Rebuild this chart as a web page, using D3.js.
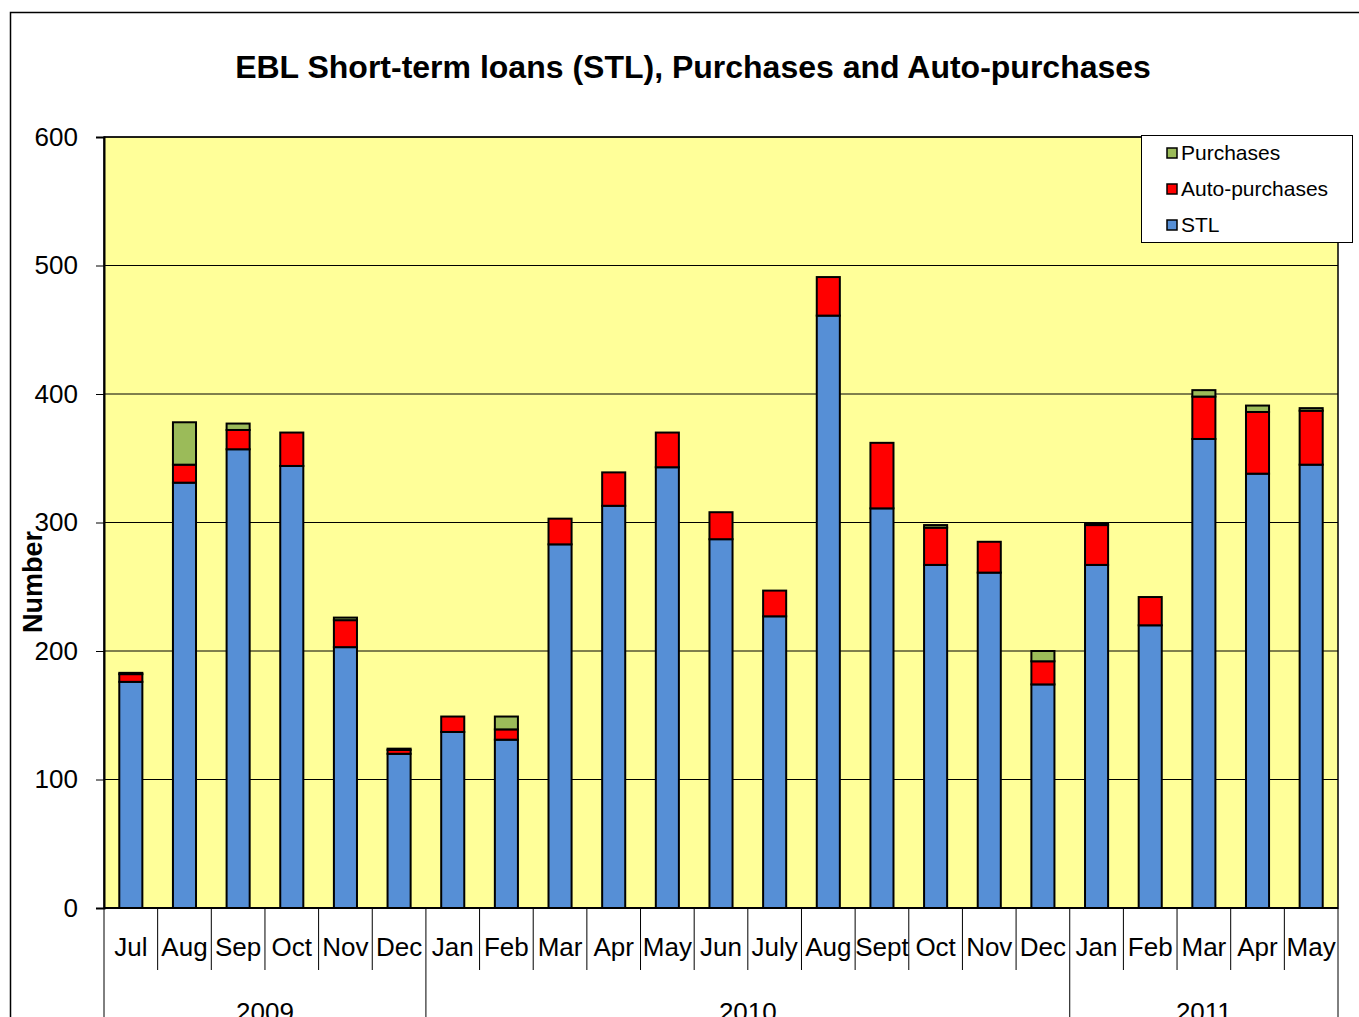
<!DOCTYPE html>
<html>
<head>
<meta charset="utf-8">
<script src="https://cdn.jsdelivr.net/npm/d3@7"></script>
<style>
    body { margin: 0; background: white; }
    text { font-family: "Liberation Sans", Arial, sans-serif; }
</style>
</head>
<body>
<div id="my_dataviz"></div>
<script>
// month labels and the year each one belongs to
var months = ["Jul", "Aug", "Sep", "Oct", "Nov", "Dec",
    "Jan", "Feb", "Mar", "Apr", "May", "Jun", "July", "Aug", "Sept", "Oct", "Nov", "Dec",
    "Jan", "Feb", "Mar", "Apr", "May"];
var years = ["2009", "2009", "2009", "2009", "2009", "2009",
    "2010", "2010", "2010", "2010", "2010", "2010", "2010", "2010", "2010", "2010", "2010", "2010",
    "2011", "2011", "2011", "2011", "2011"];

// series values
var stl = [176, 331, 357, 344, 203, 120, 137, 131, 283, 313, 343, 287, 227, 461, 311, 267, 261, 174, 267, 220, 365, 338, 345];
var autoPurchases = [6, 14, 15, 26, 21, 3, 12, 8, 20, 26, 27, 21, 20, 30, 51, 29, 24, 18, 31, 22, 33, 48, 42];
var purchases = [1, 33, 5, 0, 2, 1, 0, 10, 0, 0, 0, 0, 0, 0, 0, 2, 0, 8, 1, 0, 5, 5, 2];

var yTicks = [0, 100, 200, 300, 400, 500, 600];
var seriesKeys = ["STL", "Auto-purchases", "Purchases"];
var legendKeys = ["Purchases", "Auto-purchases", "STL"];

var width = 1359, height = 1017;
var margin = {top: 137, right: 21, bottom: 109, left: 104};
var plotW = width - margin.left - margin.right;
var plotH = height - margin.top - margin.bottom;

var color = d3.scaleOrdinal()
    .domain(seriesKeys)
    .range(["#568FD6", "#FF0000", "#9BBB59"]);

var svg = d3.select("#my_dataviz")
  .append("svg")
    .attr("width", width)
    .attr("height", height);

// outer chart frame
svg.append("rect")
    .attr("x", 10.5).attr("y", 12.5)
    .attr("width", 1380).attr("height", 1100)
    .attr("fill", "white")
    .attr("stroke", "black")
    .attr("stroke-width", 1.5);

// title
svg.append("text")
    .attr("x", 693).attr("y", 78)
    .attr("text-anchor", "middle")
    .style("font-size", "32px")
    .style("font-weight", "bold")
    .text("EBL Short-term loans (STL), Purchases and Auto-purchases");

var g = svg.append("g")
    .attr("transform", "translate(" + margin.left + "," + margin.top + ")");

// scales
var x = d3.scaleBand()
    .domain(d3.range(months.length))
    .range([0, plotW])
    .paddingInner(0.57)
    .paddingOuter(0.285);

var y = d3.scaleLinear()
    .domain([0, 600])
    .range([plotH, 0]);

// plot background
g.append("rect")
    .attr("width", plotW).attr("height", plotH)
    .attr("fill", "#FFFF99");

// gridlines
g.selectAll(".grid")
    .data(yTicks.slice(1))
    .enter()
    .append("line")
    .attr("x1", 0).attr("x2", plotW)
    .attr("y1", function(d) { return y(d); })
    .attr("y2", function(d) { return y(d); })
    .attr("stroke", "black")
    .attr("stroke-width", 1);

// stack the data
var table = months.map(function(m, i) {
    return {i: i, "STL": stl[i], "Auto-purchases": autoPurchases[i], "Purchases": purchases[i]};
});
var stacked = d3.stack().keys(seriesKeys)(table);

g.selectAll(".layer")
    .data(stacked)
    .enter()
    .append("g")
    .attr("fill", function(d) { return color(d.key); })
  .selectAll("rect")
    .data(function(d) { return d.filter(function(p) { return p[1] > p[0]; }); })
    .enter()
    .append("rect")
    .attr("x", function(d) { return x(d.data.i); })
    .attr("y", function(d) { return y(d[1]); })
    .attr("width", x.bandwidth())
    .attr("height", function(d) { return y(d[0]) - y(d[1]); })
    .attr("stroke", "black")
    .attr("stroke-width", 2);

// plot border
g.append("rect")
    .attr("width", plotW).attr("height", plotH)
    .attr("fill", "none")
    .attr("stroke", "black")
    .attr("stroke-width", 1.5);

// y axis
var yAxis = g.append("g")
    .call(d3.axisLeft(y).tickValues(yTicks).tickSize(8).tickPadding(18));
yAxis.select(".domain").attr("stroke-width", 2);
yAxis.selectAll("text")
    .style("font-size", "26px")
    .style("font-family", "Liberation Sans, Arial, sans-serif")
    .attr("fill", "black");

svg.append("text")
    .attr("transform", "translate(42,582) rotate(-90)")
    .attr("text-anchor", "middle")
    .style("font-size", "27px")
    .style("font-weight", "bold")
    .text("Number");

// x axis: month labels with separators
var step = x.step();

g.append("line")
    .attr("x1", 0).attr("x2", plotW)
    .attr("y1", plotH).attr("y2", plotH)
    .attr("stroke", "black")
    .attr("stroke-width", 2);

g.selectAll(".sep")
    .data(d3.range(months.length + 1))
    .enter()
    .append("line")
    .attr("x1", function(i) { return i * step; })
    .attr("x2", function(i) { return i * step; })
    .attr("y1", plotH)
    .attr("y2", function(i) {
        var isYear = i === 0 || i === months.length || years[i] !== years[i - 1];
        return isYear ? plotH + 120 : plotH + 62;
    })
    .attr("stroke", "black")
    .attr("stroke-width", 1);

g.selectAll(".month")
    .data(months)
    .enter()
    .append("text")
    .attr("x", function(d, i) { return x(i) + x.bandwidth() / 2; })
    .attr("y", plotH + 48)
    .attr("text-anchor", "middle")
    .style("font-size", "26px")
    .text(function(d) { return d; });

// year labels centred under their months
var yearGroups = d3.groups(d3.range(months.length), function(i) { return years[i]; });
g.selectAll(".year")
    .data(yearGroups)
    .enter()
    .append("text")
    .attr("x", function(d) {
        var idx = d[1];
        return (idx[0] + idx[idx.length - 1] + 1) / 2 * step;
    })
    .attr("y", plotH + 113)
    .attr("text-anchor", "middle")
    .style("font-size", "26px")
    .text(function(d) { return d[0]; });

// legend
var legend = svg.append("g")
    .attr("transform", "translate(1141,135)");
legend.append("rect")
    .attr("x", 0.5).attr("y", 0.5)
    .attr("width", 211).attr("height", 107)
    .attr("fill", "white")
    .attr("stroke", "black")
    .attr("stroke-width", 1);

var items = legend.selectAll(".item")
    .data(legendKeys)
    .enter()
    .append("g")
    .attr("transform", function(d, i) { return "translate(0," + (18 + i * 36) + ")"; });
items.append("rect")
    .attr("x", 26).attr("y", -5)
    .attr("width", 10).attr("height", 10)
    .attr("fill", function(d) { return color(d); })
    .attr("stroke", "black")
    .attr("stroke-width", 1.5);
items.append("text")
    .attr("x", 40).attr("y", 7)
    .style("font-size", "21px")
    .text(function(d) { return d; });
</script>
</body>
</html>
